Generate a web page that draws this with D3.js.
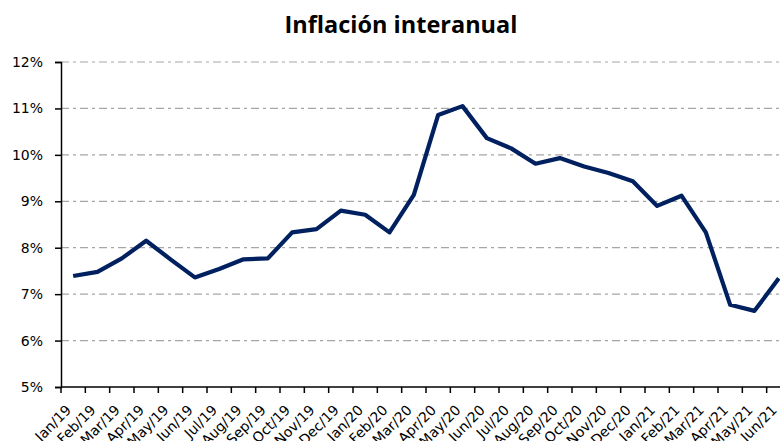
<!DOCTYPE html>
<html>
<head>
<meta charset="utf-8">
<script src="https://cdn.jsdelivr.net/npm/d3@7"></script>
<style>
  body { margin: 0; background: #fff; }
  svg { display: block; }
</style>
</head>
<body>
<div id="chart"></div>
<script>
(function(){

    // months shown on the x axis
    var months = ["Jan/19","Feb/19","Mar/19","Apr/19","May/19","Jun/19","Jul/19","Aug/19","Sep/19",
        "Oct/19","Nov/19","Dec/19","Jan/20","Feb/20","Mar/20","Apr/20","May/20","Jun/20","Jul/20",
        "Aug/20","Sep/20","Oct/20","Nov/20","Dec/20","Jan/21","Feb/21","Mar/21","Apr/21","May/21","Jun/21"];

    // year on year inflation, percent
    var inflation = [7.39, 7.48, 7.77, 8.15, 7.75, 7.36, 7.54, 7.75, 7.77,
        8.33, 8.40, 8.80, 8.71, 8.33, 9.14, 10.86, 11.05, 10.36, 10.14,
        9.81, 9.93, 9.75, 9.61, 9.43, 8.90, 9.12, 8.33, 6.77, 6.64, 7.34];

    var yTicks = [5, 6, 7, 8, 9, 10, 11, 12];

    var width = 780;
    var height = 441;
    var margin = {top: 62, left: 61, bottom: 54};
    var plotRight = 791; // last band runs past the edge of the picture

    var svg = d3.select("#chart")
        .append("svg")
        .attr("width", width)
        .attr("height", height);

    var x = d3.scaleBand()
        .domain(months)
        .range([margin.left, plotRight]);

    var y = d3.scaleLinear()
        .domain([5, 12])
        .range([height - margin.bottom, margin.top]);

    // title
    svg.append("text")
        .attr("x", 401)
        .attr("y", 33)
        .attr("text-anchor", "middle")
        .style("font-family", "'Open Sans', sans-serif")
        .style("font-weight", "700")
        .style("font-size", "23.5px")
        .text("Inflación interanual");

    // grid lines
    svg.append("g")
        .selectAll("line")
        .data(yTicks.slice(1))
        .enter()
        .append("line")
        .attr("x1", margin.left)
        .attr("x2", plotRight)
        .attr("y1", function(d) { return y(d); })
        .attr("y2", function(d) { return y(d); })
        .attr("stroke", "#a6a6a6")
        .attr("stroke-width", 1.2)
        .attr("stroke-dasharray", "8,4,3,4");

    // y axis
    var yAxis = svg.append("g")
        .attr("transform", "translate(" + margin.left + ",0)")
        .call(d3.axisLeft(y)
            .tickValues(yTicks)
            .tickSize(6)
            .tickPadding(12)
            .tickFormat(function(d) { return d + "%"; }));

    yAxis.select(".domain").attr("stroke", "#000").attr("stroke-width", 1.5);
    yAxis.selectAll(".tick line").attr("stroke", "#000").attr("stroke-width", 1.5);
    yAxis.selectAll("text")
        .attr("fill", "#000")
        .style("font-family", "'DejaVu Sans', sans-serif")
        .style("font-size", "14px");

    // x axis, ticks between the months
    var xAxis = svg.append("g")
        .attr("transform", "translate(0," + y(5) + ")");

    xAxis.append("line")
        .attr("x1", margin.left)
        .attr("x2", plotRight)
        .attr("stroke", "#000")
        .attr("stroke-width", 1.5);

    xAxis.selectAll(".xtick")
        .data(months)
        .enter()
        .append("line")
        .attr("class", "xtick")
        .attr("x1", function(d) { return x(d); })
        .attr("x2", function(d) { return x(d); })
        .attr("y1", 0)
        .attr("y2", 6)
        .attr("stroke", "#000")
        .attr("stroke-width", 1.5);

    xAxis.selectAll(".xlabel")
        .data(months)
        .enter()
        .append("text")
        .attr("class", "xlabel")
        .attr("text-anchor", "end")
        .attr("transform", function(d) {
            return "translate(" + (x(d) + x.bandwidth() / 2 - 1) + ",24) rotate(-45)";
        })
        .style("font-family", "'DejaVu Sans', sans-serif")
        .style("font-size", "14px")
        .attr("fill", "#000")
        .text(function(d) { return d; });

    // inflation line
    var line = d3.line()
        .x(function(d, i) { return x(months[i]) + x.bandwidth() / 2; })
        .y(function(d) { return y(d); });

    svg.append("path")
        .datum(inflation)
        .attr("d", line)
        .attr("fill", "none")
        .attr("stroke", "#002060")
        .attr("stroke-width", 4.2)
        .attr("stroke-linejoin", "round");

})();
</script>
</body>
</html>
